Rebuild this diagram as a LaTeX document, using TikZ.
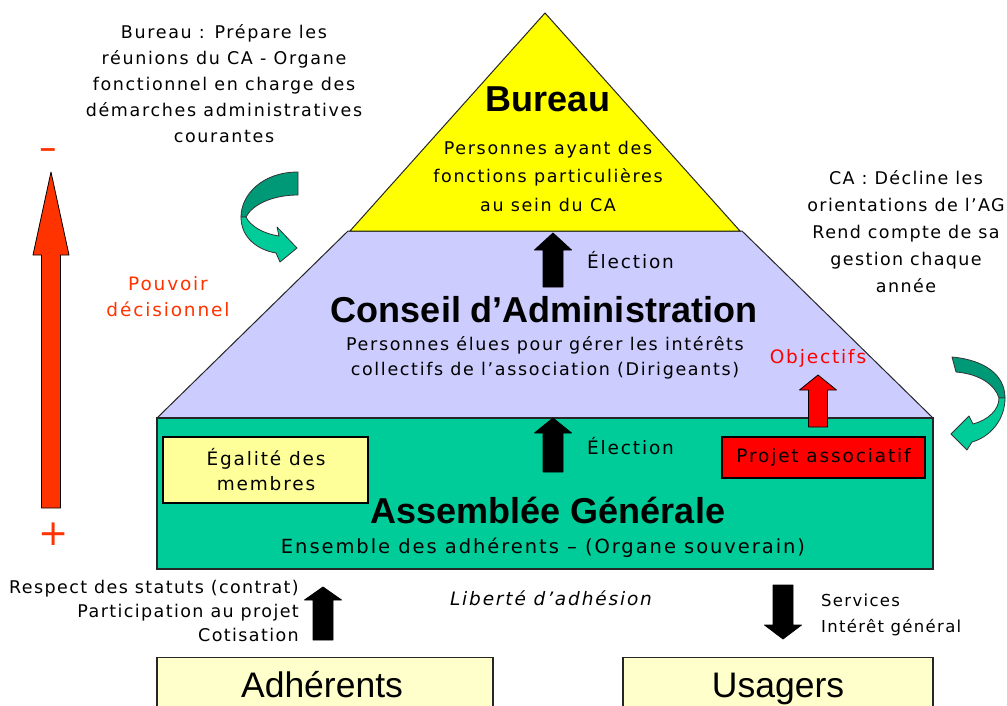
\documentclass[tikz,border=0pt]{standalone}
\usepackage{fontspec}
\setmainfont{DejaVu Sans}
\newfontfamily\fa[LetterSpace=9.5]{DejaVu Sans}
\newfontfamily\fb[LetterSpace=10]{DejaVu Sans}
\newfontfamily\fc[LetterSpace=8]{DejaVu Sans}
\newfontfamily\fl{Liberation Sans}
\definecolor{pyel}{HTML}{FFFF00}
\definecolor{plav}{HTML}{CCCCFF}
\definecolor{pteal}{HTML}{00CC99}
\definecolor{dteal}{HTML}{009977}
\definecolor{lyel}{HTML}{FFFF99}
\definecolor{cream}{HTML}{FFFFCC}
\definecolor{pred}{HTML}{FF0000}
\definecolor{ored}{HTML}{FF3300}
\newcommand\vblock[7]{\filldraw[blk,fill=#7] (#1-#6,#3) -- (#1,#2) -- (#1+#6,#3) -- (#1+#5,#3) -- (#1+#5,#4) -- (#1-#5,#4) -- (#1-#5,#3) -- cycle;}
\begin{document}
\begin{tikzpicture}[x=1pt,y=-1pt,
  outl/.style={draw=black!85,line width=1pt},
  blk/.style={draw=black,line width=0.8pt,line join=round},
  txt/.style={inner sep=0pt,align=center,font=\fa\fontsize{17.5}{26}\selectfont},
  txtb/.style={inner sep=0pt,align=center,font=\fb\fontsize{18.5}{25}\selectfont},
  ttl/.style={inner sep=0pt,align=center,font=\fl\fontsize{36}{38}\selectfont\bfseries},
  big/.style={inner sep=0pt,align=center,font=\fl\fontsize{35.5}{38}\selectfont,anchor=base},
  curv/.style={draw=black!80,line width=0.8pt,line join=round}]
\clip (0,0) rectangle (1007,706);
\fill[white] (0,0) rectangle (1007,706);
% pyramid
\filldraw[outl,fill=plav] (157,418) -- (348,231) -- (742,231) -- (933,418) -- cycle;
\filldraw[outl,fill=pyel] (350,231) -- (545,13) -- (740,231) -- cycle;
\filldraw[outl,line width=1.5pt,fill=pteal] (157,418) rectangle (933,569);
% inner boxes
\node[draw=black,line width=1.3pt,fill=lyel,minimum width=205pt,minimum height=66pt,inner sep=0pt] (egal) at (265.5,470) {};
\node[txtb] (egalt) at (266,470) {Égalité des\\membres};
\node[draw=black,line width=1.3pt,fill=pred,minimum width=203pt,minimum height=41pt,inner sep=0pt] (projet) at (823.5,457.5) {};
\node[txtb] (projett) at (823.5,457.5) {Projet associatif};
% bottom boxes
\node[draw=black!85,line width=1.3pt,fill=cream,minimum width=336pt,minimum height=70pt,inner sep=0pt,anchor=north] (adh) at (325,657) {};
\node[big] (adht) at (322,697) {Adhérents};
\node[draw=black!85,line width=1.3pt,fill=cream,minimum width=310pt,minimum height=70pt,inner sep=0pt,anchor=north] (usa) at (778,657) {};
\node[big] (usat) at (778,697) {Usagers};
% block arrows
\vblock{553}{233}{250}{287}{10}{18.5}{black}
\vblock{553}{418}{433}{472}{10}{18.5}{black}
\vblock{323}{587}{600}{640}{10}{18.5}{black}
\vblock{783}{639}{625}{585}{10}{18.5}{black}
\vblock{818}{375}{390}{427}{9.5}{18.5}{pred}
\vblock{51}{172}{255}{508}{9.5}{18}{ored}
% curved arrows
\filldraw[curv,fill=dteal] (298,172) .. controls (262,172) and (241,195) .. (241,217) -- (246,217) .. controls (252,205) and (272,195) .. (298,195) -- cycle;
\filldraw[curv,fill=pteal] (241,217) .. controls (241,238) and (258,250) .. (276,253) -- (280,262) -- (297,248) -- (277,227) -- (279,236) .. controls (264,234) and (250,226) .. (246,217) -- cycle;
\filldraw[curv,fill=dteal] (952,357) .. controls (985,360) and (1005,375) .. (1005,398) -- (999,398) .. controls (995,385) and (980,374) .. (956,372) -- cycle;
\filldraw[curv,fill=pteal] (1005,398) .. controls (1005,420) and (990,437) .. (972,442) -- (967,450) -- (951,434) -- (969,416) -- (973,424) .. controls (988,420) and (999,410) .. (999,398) -- cycle;
% titles
\node[ttl] (bur) at (548,99) {Bureau};
\node[txt,font=\fa\fontsize{17.5}{28.5}\selectfont] (burs) at (548,176) {Personnes ayant des\\fonctions particulières\\au sein du CA};
\node[ttl] (ca) at (544,310) {Conseil d’Administration};
\node[txt,font=\fa\fontsize{17.5}{25}\selectfont] (cas) at (545,357.5) {Personnes élues pour gérer les intérêts\\collectifs de l’association (Dirigeants)};
\node[ttl] (ag) at (548,510) {Assemblée Générale};
\node[txtb,font=\fb\fontsize{19.5}{25}\selectfont] (ags) at (543,548) {Ensemble des adhérents – (Organe souverain)};
\node[txtb,anchor=west] (el1) at (587,260) {Élection};
\node[txtb,anchor=west] (el2) at (587,446) {Élection};
\node[txtb,text=pred] (obj) at (818,358) {Objectifs};
% side texts
\node[txt] (burd) at (224,84) {Bureau : Prépare les\\réunions du CA - Organe\\fonctionnel en charge des\\démarches administratives\\courantes};
\node[txt,font=\fc\fontsize{17.5}{27}\selectfont] (cad) at (906,232) {CA : Décline les\\orientations de l’AG\\Rend compte de sa\\gestion chaque\\année};
\node[txtb,font=\fb\fontsize{18.5}{26}\selectfont,text=ored] (pouv) at (168,297) {Pouvoir\\décisionnel};
\node[font=\fl\fontsize{28}{28}\selectfont\bfseries,text=ored,inner sep=0pt] (moins) at (48,153) {–};
\node[font=\fontsize{36}{36}\selectfont,text=ored,inner sep=0pt] (plus) at (54,534) {+};
\node[txt,font=\fc\fontsize{17.5}{24}\selectfont,align=right,anchor=east] (resp) at (299,611) {Respect des statuts (contrat)\\Participation au projet\\Cotisation};
\node[txtb,font=\fb\fontsize{18.5}{25}\selectfont\itshape] (lib) at (551,598) {Liberté d’adhésion};
\node[txt,font=\fc\fontsize{16.5}{26}\selectfont,align=left,anchor=west] (serv) at (821,615) {Services\\Intérêt général};
\end{tikzpicture}
\end{document}
